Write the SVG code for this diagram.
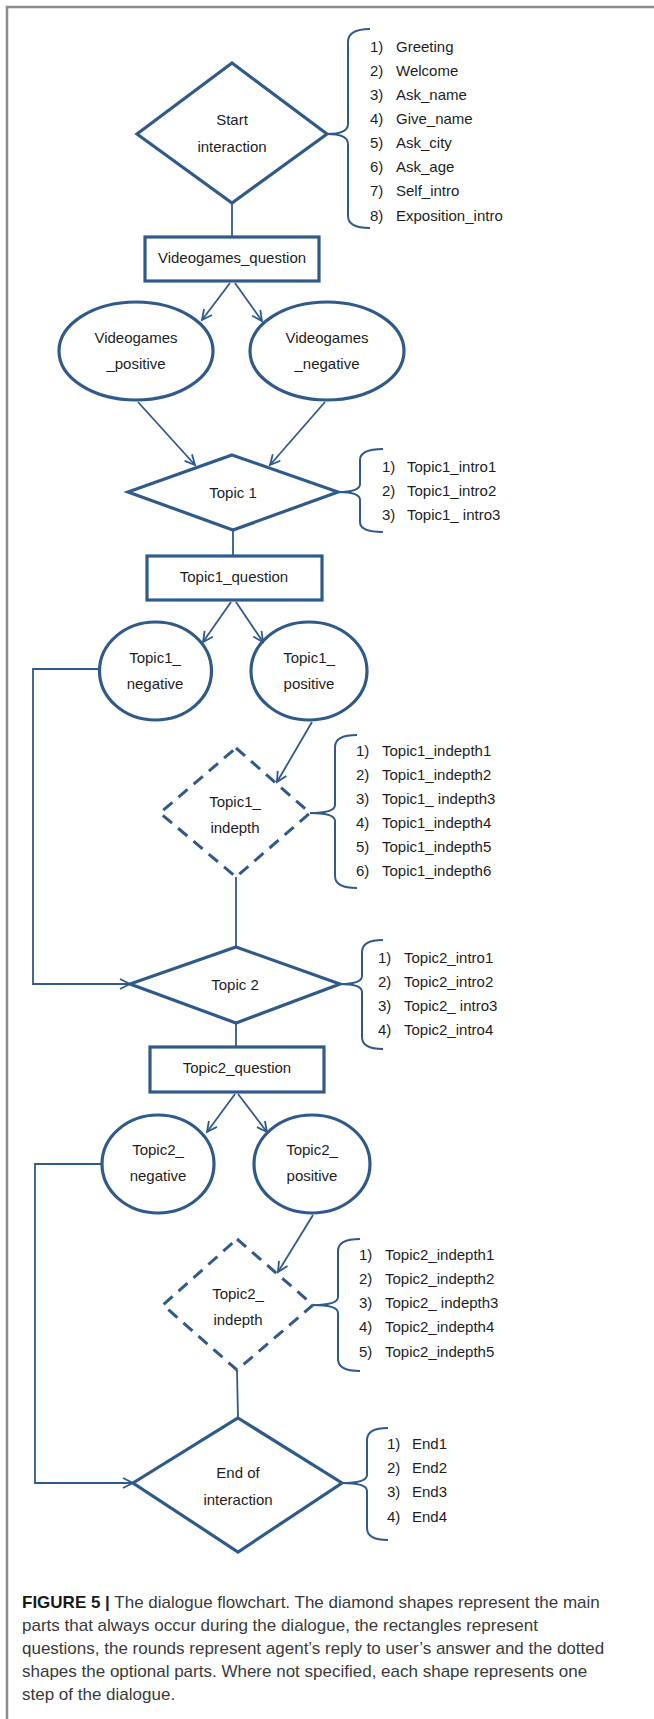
<svg xmlns="http://www.w3.org/2000/svg" width="654" height="1719" viewBox="0 0 654 1719">
<style>
.node{fill:none;stroke:#2f5a8a;stroke-width:3.2;stroke-linejoin:miter}
.dash{fill:none;stroke:#2f5a8a;stroke-width:3;stroke-dasharray:12 8}
.conn{fill:none;stroke:#2f5a8a;stroke-width:1.8}
.brace{fill:none;stroke:#2f5a8a;stroke-width:2}
.t{font-family:"Liberation Sans",Arial,sans-serif;font-size:15px;fill:#1e1e1e;text-anchor:middle}
.l{font-family:"Liberation Sans",Arial,sans-serif;font-size:15px;fill:#1e1e1e}
.cap{font-family:"Liberation Sans",Arial,sans-serif;font-size:17px;fill:#3a3a3a}
</style>
<defs>
<marker id="arr" markerUnits="userSpaceOnUse" markerWidth="14" markerHeight="14" refX="11" refY="6" orient="auto">
<path d="M1,1 L11,6 L1,11" fill="none" stroke="#2f5a8a" stroke-width="1.8"/>
</marker>
</defs>
<rect x="0" y="0" width="654" height="1719" fill="#ffffff"/>
<path d="M7,1719 L7,7 L654,7" fill="none" stroke="#8c8c8c" stroke-width="2.5"/>

<g id="connectors">
<path class="conn" d="M232,203 L232,237"/>
<path class="conn" d="M230,283 L202,320" marker-end="url(#arr)"/>
<path class="conn" d="M235,283 L262,321" marker-end="url(#arr)"/>
<path class="conn" d="M138,402 L195,465" marker-end="url(#arr)"/>
<path class="conn" d="M325,402 L270,465" marker-end="url(#arr)"/>
<path class="conn" d="M233,530 L233,556"/>
<path class="conn" d="M231,602 L203,642" marker-end="url(#arr)"/>
<path class="conn" d="M236,602 L263,642" marker-end="url(#arr)"/>
<path class="conn" d="M99,669 L33,669 L33,984 L130,984" marker-end="url(#arr)"/>
<path class="conn" d="M312,722 L277,782" marker-end="url(#arr)"/>
<path class="conn" d="M236,877 L236,947"/>
<path class="conn" d="M236,1023 L236,1047"/>
<path class="conn" d="M235,1094 L207,1132" marker-end="url(#arr)"/>
<path class="conn" d="M238,1094 L267,1132" marker-end="url(#arr)"/>
<path class="conn" d="M101,1164 L35,1164 L35,1483 L133,1483" marker-end="url(#arr)"/>
<path class="conn" d="M313,1215 L278,1272" marker-end="url(#arr)"/>
<path class="conn" d="M237,1370 L238,1418"/>
</g>

<g id="start">
<polygon class="node" points="232,63 327,134 232,203 137,134"/>
<text class="t" x="232" y="125">Start</text>
<text class="t" x="232" y="152">interaction</text>
<path class="brace" d="M370,29 Q348,29 348,42 L348,124 Q348,134 327,134 Q348,134 348,144 L348,216 Q348,228 370,228"/>
<g class="l">
<text x="370" y="52">1)</text><text x="396" y="52">Greeting</text>
<text x="370" y="76">2)</text><text x="396" y="76">Welcome</text>
<text x="370" y="100">3)</text><text x="396" y="100">Ask_name</text>
<text x="370" y="124">4)</text><text x="396" y="124">Give_name</text>
<text x="370" y="148">5)</text><text x="396" y="148">Ask_city</text>
<text x="370" y="172">6)</text><text x="396" y="172">Ask_age</text>
<text x="370" y="196">7)</text><text x="396" y="196">Self_intro</text>
<text x="370" y="221">8)</text><text x="396" y="221">Exposition_intro</text>
</g>
</g>

<g id="videogames_question">
<rect class="node" x="145" y="237" width="174" height="44"/>
<text class="t" x="232" y="263">Videogames_question</text>
</g>

<g id="videogames_positive">
<ellipse class="node" cx="136" cy="351" rx="77" ry="49"/>
<text class="t" x="136" y="343">Videogames</text>
<text class="t" x="136" y="369">_positive</text>
</g>

<g id="videogames_negative">
<ellipse class="node" cx="327" cy="351" rx="77" ry="49"/>
<text class="t" x="327" y="343">Videogames</text>
<text class="t" x="327" y="369">_negative</text>
</g>

<g id="topic1">
<polygon class="node" points="232,455 338,492 233,530 128,492"/>
<text class="t" x="233" y="498">Topic 1</text>
<path class="brace" d="M383,449 Q360,449 360,460 L360,484 Q360,492 338,492 Q360,492 360,500 L360,522 Q360,532 383,532"/>
<g class="l">
<text x="382" y="472">1)</text><text x="407" y="472">Topic1_intro1</text>
<text x="382" y="496">2)</text><text x="407" y="496">Topic1_intro2</text>
<text x="382" y="520">3)</text><text x="407" y="520">Topic1_ intro3</text>
</g>
</g>

<g id="topic1_question">
<rect class="node" x="147" y="556" width="175" height="44"/>
<text class="t" x="234" y="582">Topic1_question</text>
</g>

<g id="topic1_negative">
<ellipse class="node" cx="155.5" cy="671" rx="56" ry="49"/>
<text class="t" x="155" y="663">Topic1_</text>
<text class="t" x="155" y="689">negative</text>
</g>

<g id="topic1_positive">
<ellipse class="node" cx="309" cy="671" rx="58" ry="49"/>
<text class="t" x="309" y="663">Topic1_</text>
<text class="t" x="309" y="689">positive</text>
</g>

<g id="topic1_indepth">
<polygon class="dash" points="236,748 310,813 236,877 160,813"/>
<text class="t" x="235" y="807">Topic1_</text>
<text class="t" x="235" y="833">indepth</text>
<path class="brace" d="M357,735 Q335,735 335,747 L335,805 Q335,813 310,813 Q335,813 335,821 L335,876 Q335,888 357,888"/>
<g class="l">
<text x="356" y="756">1)</text><text x="382" y="756">Topic1_indepth1</text>
<text x="356" y="780">2)</text><text x="382" y="780">Topic1_indepth2</text>
<text x="356" y="804">3)</text><text x="382" y="804">Topic1_ indepth3</text>
<text x="356" y="828">4)</text><text x="382" y="828">Topic1_indepth4</text>
<text x="356" y="852">5)</text><text x="382" y="852">Topic1_indepth5</text>
<text x="356" y="876">6)</text><text x="382" y="876">Topic1_indepth6</text>
</g>
</g>

<g id="topic2">
<polygon class="node" points="236,947 340,984 236,1023 130,984"/>
<text class="t" x="235" y="990">Topic 2</text>
<path class="brace" d="M383,940 Q362,940 362,952 L362,976 Q362,984 340,984 Q362,984 362,992 L362,1037 Q362,1049 383,1049"/>
<g class="l">
<text x="378" y="963">1)</text><text x="404" y="963">Topic2_intro1</text>
<text x="378" y="987">2)</text><text x="404" y="987">Topic2_intro2</text>
<text x="378" y="1011">3)</text><text x="404" y="1011">Topic2_ intro3</text>
<text x="378" y="1035">4)</text><text x="404" y="1035">Topic2_intro4</text>
</g>
</g>

<g id="topic2_question">
<rect class="node" x="150" y="1047" width="174" height="45"/>
<text class="t" x="237" y="1073">Topic2_question</text>
</g>

<g id="topic2_negative">
<ellipse class="node" cx="158" cy="1164" rx="56" ry="49"/>
<text class="t" x="158" y="1155">Topic2_</text>
<text class="t" x="158" y="1181">negative</text>
</g>

<g id="topic2_positive">
<ellipse class="node" cx="312" cy="1164" rx="58" ry="49"/>
<text class="t" x="312" y="1155">Topic2_</text>
<text class="t" x="312" y="1181">positive</text>
</g>

<g id="topic2_indepth">
<polygon class="dash" points="237,1239 313,1305 237,1370 163,1305"/>
<text class="t" x="238" y="1299">Topic2_</text>
<text class="t" x="238" y="1325">indepth</text>
<path class="brace" d="M360,1239 Q338,1239 338,1251 L338,1297 Q338,1305 313,1305 Q338,1305 338,1313 L338,1359 Q338,1371 360,1371"/>
<g class="l">
<text x="359" y="1260">1)</text><text x="385" y="1260">Topic2_indepth1</text>
<text x="359" y="1284">2)</text><text x="385" y="1284">Topic2_indepth2</text>
<text x="359" y="1308">3)</text><text x="385" y="1308">Topic2_ indepth3</text>
<text x="359" y="1332">4)</text><text x="385" y="1332">Topic2_indepth4</text>
<text x="359" y="1357">5)</text><text x="385" y="1357">Topic2_indepth5</text>
</g>
</g>

<g id="end">
<polygon class="node" points="238,1418 342,1483 238,1552 133,1483"/>
<text class="t" x="238" y="1478">End of</text>
<text class="t" x="238" y="1505">interaction</text>
<path class="brace" d="M388,1428 Q367,1428 367,1440 L367,1475 Q367,1483 342,1483 Q367,1483 367,1491 L367,1528 Q367,1540 388,1540"/>
<g class="l">
<text x="387" y="1449">1)</text><text x="412" y="1449">End1</text>
<text x="387" y="1473">2)</text><text x="412" y="1473">End2</text>
<text x="387" y="1497">3)</text><text x="412" y="1497">End3</text>
<text x="387" y="1522">4)</text><text x="412" y="1522">End4</text>
</g>
</g>

<g id="caption" class="cap">
<text x="22" y="1608"><tspan font-weight="bold" fill="#1a1a1a">FIGURE 5 |</tspan> The dialogue flowchart. The diamond shapes represent the main</text>
<text x="22" y="1631">parts that always occur during the dialogue, the rectangles represent</text>
<text x="22" y="1654">questions, the rounds represent agent’s reply to user’s answer and the dotted</text>
<text x="22" y="1677">shapes the optional parts. Where not specified, each shape represents one</text>
<text x="22" y="1700">step of the dialogue.</text>
</g>
</svg>
